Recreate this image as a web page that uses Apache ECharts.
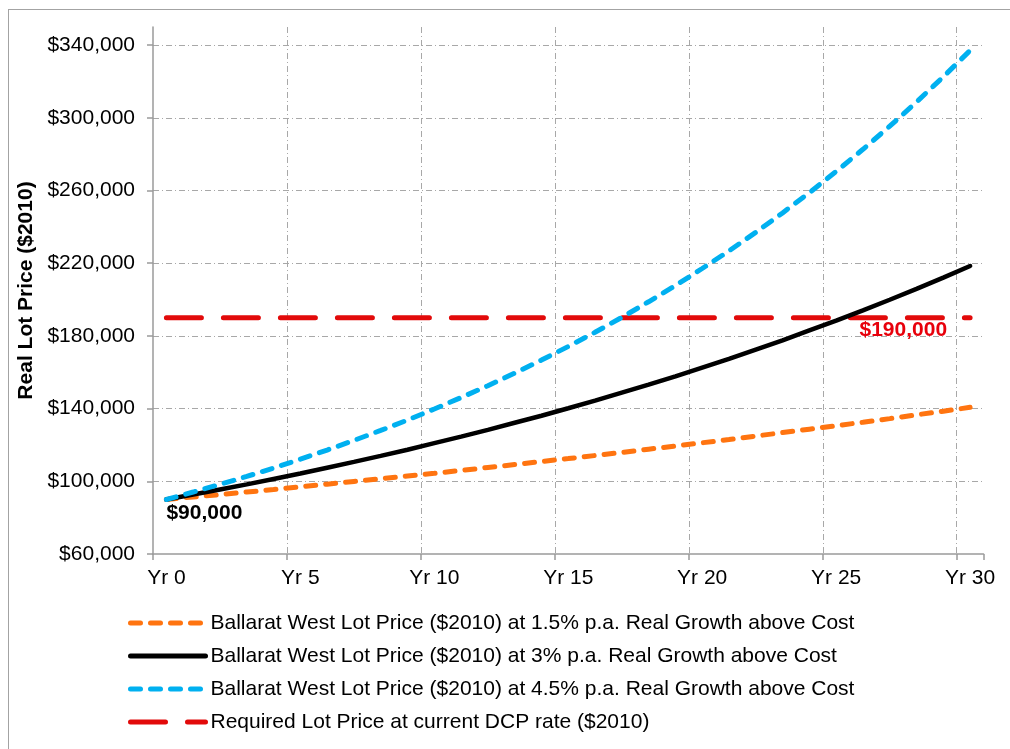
<!DOCTYPE html>
<html>
<head>
<meta charset="utf-8">
<script src="https://cdn.jsdelivr.net/npm/echarts@6/dist/echarts.min.js"></script>
<style>
  html, body { margin: 0; padding: 0; background: #fff; }
  #chart { position: absolute; left: 0; top: 0; width: 1010px; height: 749px; }
  #frame { position: absolute; left: 8px; top: 9px; width: 1020px; height: 760px;
           border: 1.5px solid #a3a3a3; pointer-events: none; }
</style>
</head>
<body>
<div id="chart"></div>
<div id="frame"></div>
<script>
// Years of the projection
const years = ['Yr 0','Yr 1','Yr 2','Yr 3','Yr 4','Yr 5','Yr 6','Yr 7','Yr 8','Yr 9','Yr 10',
  'Yr 11','Yr 12','Yr 13','Yr 14','Yr 15','Yr 16','Yr 17','Yr 18','Yr 19','Yr 20',
  'Yr 21','Yr 22','Yr 23','Yr 24','Yr 25','Yr 26','Yr 27','Yr 28','Yr 29','Yr 30'];

// Lot price ($2010) at 1.5% p.a. real growth
const growth15 = [90000, 91400, 92700, 94100, 95500, 97000, 98400, 99900, 101400, 102900, 104400,
  106000, 107600, 109200, 110900, 112500, 114200, 115900, 117700, 119400, 121200,
  123000, 124900, 126800, 128700, 130600, 132500, 134500, 136600, 138600, 140700];

// Lot price ($2010) at 3% p.a. real growth
const growth3 = [90000, 92700, 95500, 98300, 101300, 104300, 107500, 110700, 114000, 117400, 121000,
  124600, 128300, 132200, 136100, 140200, 144400, 148800, 153200, 157800, 162600,
  167400, 172500, 177600, 183000, 188400, 194100, 199900, 205900, 212100, 218500];

// Lot price ($2010) at 4.5% p.a. real growth
const growth45 = [90000, 94100, 98300, 102700, 107300, 112200, 117200, 122500, 128000, 133700, 139800,
  146100, 152600, 159500, 166700, 174200, 182000, 190200, 198800, 207700, 217100,
  226800, 237000, 247700, 258800, 270500, 282700, 295400, 308700, 322600, 337100];

// Required lot price at the current DCP rate
const requiredPrice = [190000, 190000, 190000, 190000, 190000, 190000, 190000, 190000, 190000, 190000, 190000,
  190000, 190000, 190000, 190000, 190000, 190000, 190000, 190000, 190000, 190000,
  190000, 190000, 190000, 190000, 190000, 190000, 190000, 190000, 190000, 190000];

// Value-axis tick labels
const yTicks = [60000, 100000, 140000, 180000, 220000, 260000, 300000, 340000];

const seriesNames = [
  'Ballarat West Lot Price ($2010) at 1.5% p.a. Real Growth above Cost',
  'Ballarat West Lot Price ($2010) at 3% p.a. Real Growth above Cost',
  'Ballarat West Lot Price ($2010) at 4.5% p.a. Real Growth above Cost',
  'Required Lot Price at current DCP rate ($2010)'
];

const FONT = '"Liberation Sans", Arial, Helvetica, sans-serif';
const FS = 21;
const money = v => '$' + Number(v).toLocaleString('en-US');

// Attach a value label to one point of a series
function labelled(values, idx, label) {
  return values.map((v, i) => i === idx
    ? { value: v, symbol: 'circle', symbolSize: 0, label: Object.assign({ show: true, formatter: p => money(p.value) }, label) }
    : v);
}

const chart = echarts.init(document.getElementById('chart'), null, { renderer: 'canvas' });

const gridLine = { show: true, lineStyle: { color: '#a8a8a8', width: 1, type: [6, 3, 1, 3] } };

chart.setOption({
  animation: false,
  backgroundColor: 'transparent',
  textStyle: { fontFamily: FONT },
  grid: { left: 153, right: 26.5, top: 27, bottom: 195, containLabel: false },
  legend: {
    orient: 'vertical',
    left: 128,
    top: 611,
    padding: 0,
    itemWidth: 75,
    itemHeight: 24,
    itemGap: 9,
    data: seriesNames,
    itemStyle: { opacity: 0, borderWidth: 0 },
    lineStyle: { width: 5, cap: 'round' },
    textStyle: { fontFamily: FONT, fontSize: FS, color: '#000', lineHeight: 24, padding: [0, 0, 0, 0] }
  },
  xAxis: {
    type: 'category',
    data: years,
    boundaryGap: true,
    axisLine: { show: true, lineStyle: { color: '#9a9a9a', width: 1.5 } },
    axisTick: { show: true, interval: 4, length: 6, lineStyle: { color: '#9a9a9a', width: 1.5 } },
    axisLabel: { interval: 4, fontSize: FS, color: '#000', fontFamily: FONT, margin: 14 },
    splitLine: Object.assign({ interval: 4, showMinLine: false, showMaxLine: false }, gridLine)
  },
  yAxis: {
    type: 'value',
    min: 60000,
    max: 350000,
    name: 'Real Lot Price ($2010)',
    nameLocation: 'middle',
    nameGap: 113,
    nameRotate: 90,
    nameTextStyle: { fontSize: FS, fontWeight: 'bold', color: '#000', fontFamily: FONT },
    axisLine: { show: true, lineStyle: { color: '#9a9a9a', width: 1.5 } },
    axisTick: { show: true, length: 6, customValues: yTicks, lineStyle: { color: '#9a9a9a', width: 1.5 } },
    axisLabel: { customValues: yTicks, formatter: money, fontSize: FS, color: '#000', fontFamily: FONT, margin: 18 },
    splitLine: Object.assign({ showMinLine: false }, gridLine)
  },
  series: [
    {
      name: seriesNames[0], type: 'line', data: growth15, symbol: 'none', z: 3,
      lineStyle: { color: '#FF7410', width: 5, type: [10, 10], cap: 'round' },
      itemStyle: { color: '#FF7410' }
    },
    {
      name: seriesNames[1], type: 'line', data: labelled(growth3, 0,
        { position: 'bottom', distance: 3, align: 'left', color: '#000', fontWeight: 'bold', fontSize: FS, fontFamily: FONT }),
      symbol: 'none', z: 4,
      lineStyle: { color: '#000000', width: 4.5, cap: 'round' },
      itemStyle: { color: '#000000' }
    },
    {
      name: seriesNames[2], type: 'line', data: growth45, symbol: 'none', z: 5,
      lineStyle: { color: '#00B0F0', width: 5, type: [10, 10], cap: 'round' },
      itemStyle: { color: '#00B0F0' }
    },
    {
      name: seriesNames[3], type: 'line', data: labelled(requiredPrice, requiredPrice.length - 1,
        { position: 'bottom', distance: 2, align: 'right', offset: [-23, 0], color: '#E8000B', fontWeight: 'bold', fontSize: FS, fontFamily: FONT }),
      symbol: 'none', z: 2,
      lineStyle: { color: '#E20A0A', width: 5, type: [35, 22], cap: 'round' },
      itemStyle: { color: '#E20A0A' }
    }
  ]
});
</script>
</body>
</html>
